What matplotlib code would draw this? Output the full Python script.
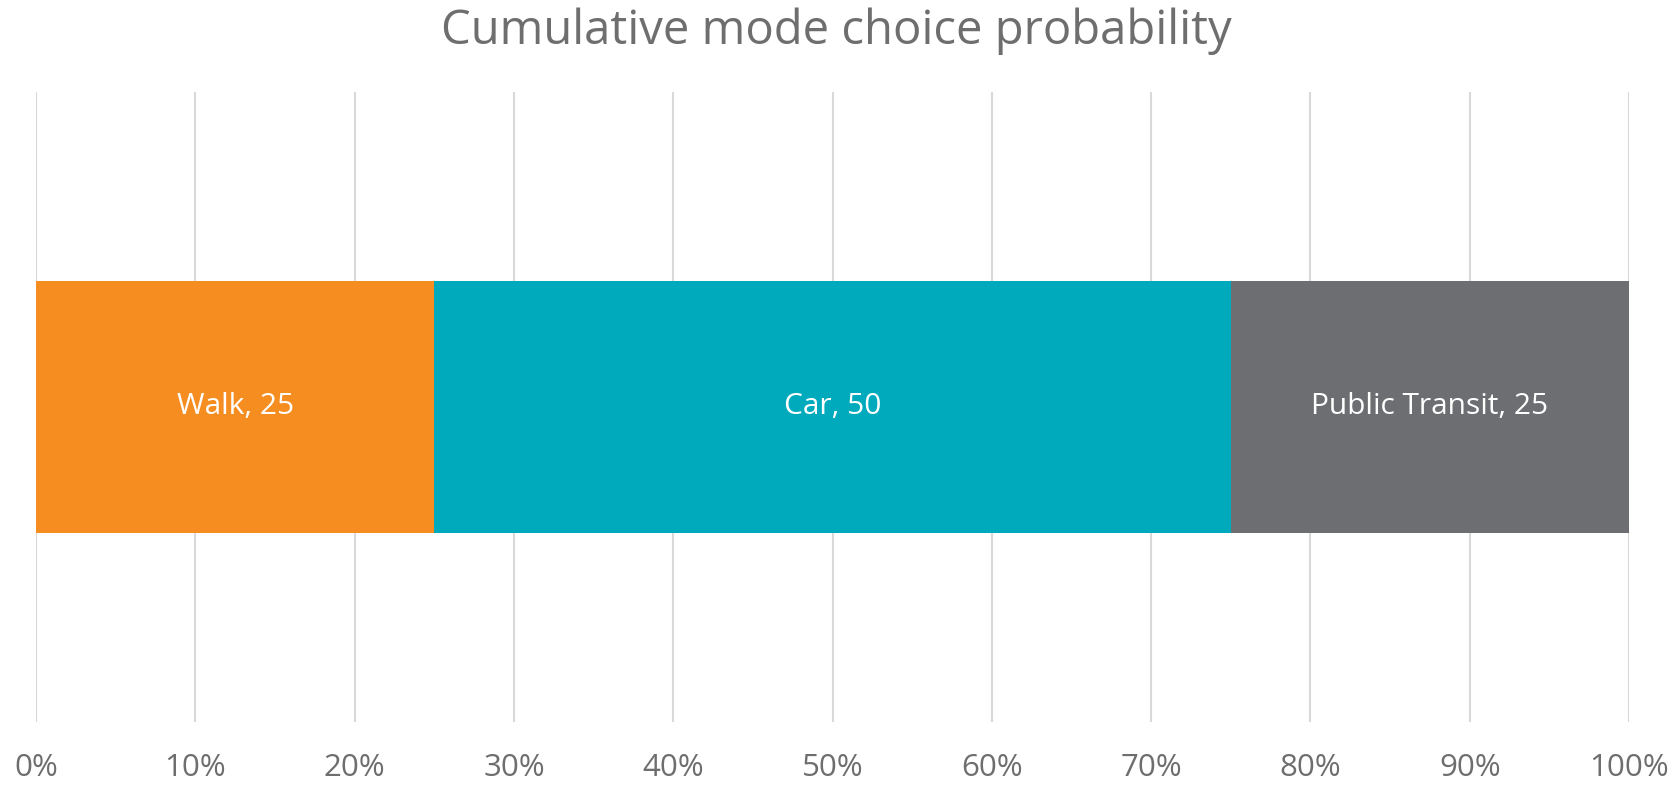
import numpy as np
import matplotlib.pyplot as plt
from matplotlib.ticker import FuncFormatter

plt.rcParams['font.family'] = ['Open Sans', 'DejaVu Sans']

# mode shares
modes = ['Walk', 'Car', 'Public Transit']
counts = [25, 50, 25]
colors = ['#F68D20', '#00AABD', '#6D6E71']
ticks = np.arange(0, 101, 10)

shares = np.array(counts) / sum(counts) * 100

fig = plt.figure(figsize=(16.73, 7.85), dpi=100)
ax = fig.add_axes([36/1673, 1-722/785, (1629-36)/1673, 630/785])

left = 0
for mode, n, s, c in zip(modes, counts, shares, colors):
    ax.barh(0, s, left=left, height=0.4, color=c, zorder=3)
    ax.text(left + s/2, 0, mode + ', ' + str(n), ha='center', va='center',
            color='white', fontsize=21.5, zorder=4)
    left += s

ax.set_xlim(0, 100)
ax.set_ylim(-0.5, 0.5)
ax.set_xticks(ticks)
ax.xaxis.set_major_formatter(FuncFormatter(lambda v, p: '%d%%' % v))
ax.set_yticks([])
ax.grid(axis='x', color='#D9D9D9', linewidth=1.5, zorder=0)
for sp in ax.spines.values():
    sp.set_visible(False)
ax.tick_params(axis='x', length=0, pad=22, labelsize=22.5, labelcolor='#6E6E6E')

fig.text(0.5, 1-31/785, 'Cumulative mode choice probability', ha='center', va='center',
         fontsize=34, color='#6E6E6E')

fig.savefig('out.png', dpi=100, facecolor='white')
